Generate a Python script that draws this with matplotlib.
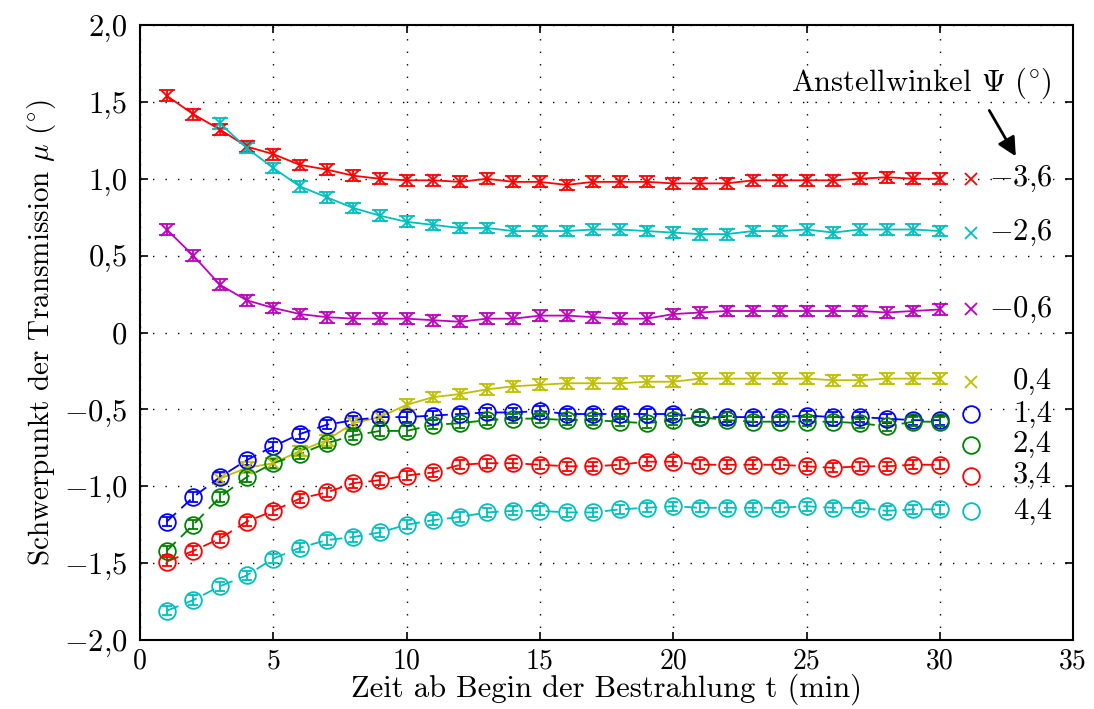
import numpy as np
import matplotlib
matplotlib.use('Agg')
import matplotlib.pyplot as plt

plt.rcParams['font.family'] = 'serif'
plt.rcParams['font.serif'] = ['cmr10', 'DejaVu Serif']
plt.rcParams['mathtext.fontset'] = 'cm'
plt.rcParams['axes.formatter.use_mathtext'] = True

t = list(range(1, 31))

# x-marker series (solid lines)
mu_m36 = [1.54, 1.42, 1.32, 1.21, 1.16, 1.09, 1.06, 1.02, 1.00, 0.99,
          0.99, 0.98, 1.00, 0.98, 0.98, 0.96, 0.98, 0.98, 0.98, 0.97,
          0.97, 0.97, 0.99, 0.99, 0.99, 0.99, 1.00, 1.01, 1.00, 1.00]
t_m26 = list(range(3, 31))
mu_m26 = [1.36, 1.20, 1.07, 0.95, 0.88, 0.81, 0.76, 0.72,
          0.70, 0.68, 0.68, 0.66, 0.66, 0.66, 0.67, 0.67, 0.66, 0.65,
          0.64, 0.64, 0.66, 0.66, 0.67, 0.65, 0.67, 0.67, 0.67, 0.66]
mu_m06 = [0.67, 0.50, 0.31, 0.21, 0.16, 0.12, 0.10, 0.09, 0.09, 0.09,
          0.08, 0.07, 0.09, 0.09, 0.11, 0.11, 0.10, 0.09, 0.09, 0.12,
          0.13, 0.14, 0.14, 0.14, 0.14, 0.14, 0.14, 0.13, 0.14, 0.15]
t_p04 = list(range(3, 31))
mu_p04 = [-0.95, -0.88, -0.85, -0.77, -0.70, -0.59, -0.55, -0.47,
          -0.42, -0.40, -0.37, -0.35, -0.34, -0.33, -0.33, -0.33, -0.32, -0.32,
          -0.30, -0.30, -0.30, -0.30, -0.30, -0.31, -0.31, -0.30, -0.30, -0.30]

# circle series (dashed lines)
mu_p14 = [-1.23, -1.07, -0.94, -0.83, -0.74, -0.66, -0.60, -0.57, -0.55, -0.55,
          -0.54, -0.53, -0.52, -0.52, -0.51, -0.53, -0.53, -0.53, -0.53, -0.53,
          -0.55, -0.55, -0.55, -0.55, -0.54, -0.55, -0.55, -0.56, -0.57, -0.57]
mu_p24 = [-1.42, -1.25, -1.07, -0.94, -0.85, -0.79, -0.72, -0.67, -0.64, -0.64,
          -0.60, -0.59, -0.57, -0.56, -0.56, -0.57, -0.57, -0.58, -0.59, -0.57,
          -0.55, -0.57, -0.58, -0.58, -0.58, -0.58, -0.59, -0.61, -0.58, -0.58]
mu_p34 = [-1.49, -1.42, -1.34, -1.23, -1.16, -1.08, -1.04, -0.98, -0.96, -0.93,
          -0.91, -0.86, -0.85, -0.85, -0.86, -0.87, -0.87, -0.86, -0.84, -0.84,
          -0.86, -0.86, -0.86, -0.86, -0.87, -0.88, -0.87, -0.87, -0.86, -0.86]
mu_p44 = [-1.81, -1.74, -1.65, -1.58, -1.47, -1.40, -1.35, -1.33, -1.30, -1.25,
          -1.22, -1.20, -1.17, -1.16, -1.16, -1.17, -1.17, -1.15, -1.14, -1.13,
          -1.14, -1.14, -1.14, -1.14, -1.13, -1.14, -1.14, -1.16, -1.15, -1.15]

err_x = 0.035
err_o = 0.03

angle_labels = ['$-$3,6', '$-$2,6', '$-$0,6', '0,4', '1,4', '2,4', '3,4', '4,4']
label_y = [1.0, 0.65, 0.15, -0.32, -0.53, -0.73, -0.93, -1.16]

yticks = [2.0, 1.5, 1.0, 0.5, 0.0, -0.5, -1.0, -1.5, -2.0]
yticklabels = ['2,0', '1,5', '1,0', '0,5', '0', '$-$0,5', '$-$1,0', '$-$1,5', '$-$2,0']
xticks = [0, 5, 10, 15, 20, 25, 30, 35]

fig = plt.figure(figsize=(10.94, 7.09), dpi=100)
ax = fig.add_axes([0.128, 0.0973, 0.853, 0.8674])

x_series = [(t, mu_m36, 'r'), (t_m26, mu_m26, 'c'), (t, mu_m06, 'm'), (t_p04, mu_p04, 'y')]
o_series = [(t, mu_p14, 'b'), (t, mu_p24, 'g'), (t, mu_p34, 'r'), (t, mu_p44, 'c')]

for xs, ys, col in x_series:
    ax.plot(xs, ys, '-', color=col, lw=1.3)
    ax.errorbar(xs, ys, yerr=err_x, fmt='x', color=col, ms=9, mew=1.3,
                elinewidth=1.3, capsize=5.5, capthick=1.5)

for xs, ys, col in o_series:
    ax.plot(xs, ys, color=col, lw=1.3, dashes=(7, 4))
    ax.errorbar(xs, ys, yerr=err_o, fmt='o', color=col, mfc='none', ms=12, mew=1.3,
                elinewidth=1.3, capsize=3.5, capthick=1.3)

# legend-like labels at the right
markers = ['x', 'x', 'x', 'x', 'o', 'o', 'o', 'o']
colors = ['r', 'c', 'm', 'y', 'b', 'g', 'r', 'c']
for lab, yy, mk, col in zip(angle_labels, label_y, markers, colors):
    if mk == 'x':
        ax.plot([31.15], [yy], 'x', color=col, ms=9, mew=1.3)
    else:
        ax.plot([31.15], [yy], 'o', color=col, mfc='none', ms=12, mew=1.3)
    ax.text(34.2, yy, lab, ha='right', va='center', fontsize=22)

ax.text(34.2, 1.62, r'Anstellwinkel $\Psi$ (${}^{\circ}$)', ha='right', va='center', fontsize=22)
ax.annotate('', xy=(32.9, 1.13), xytext=(31.8, 1.46),
            arrowprops=dict(arrowstyle='-|>', color='k', lw=2, mutation_scale=28))

ax.set_xlim(0, 35)
ax.set_ylim(-2, 2)
ax.set_xticks(xticks)
ax.set_xticklabels([str(v) for v in xticks], fontsize=20)
ax.set_yticks(yticks)
ax.set_yticklabels(yticklabels, fontsize=22)
ax.tick_params(direction='in', top=True, right=True, length=6, width=1.2)
ax.tick_params(axis='y', pad=9)
ax.tick_params(axis='x', pad=6)
ax.grid(True, color='k', linestyle=(0, (1, 8)), lw=1)
for s in ax.spines.values():
    s.set_linewidth(1.5)

ax.set_xlabel('Zeit ab Begin der Bestrahlung t (min)', fontsize=22, labelpad=-1)
ax.set_ylabel(r'Schwerpunkt der Transmission $\mu$ (${}^{\circ}$)', fontsize=21, labelpad=4)

fig.savefig('out.png', dpi=100)
